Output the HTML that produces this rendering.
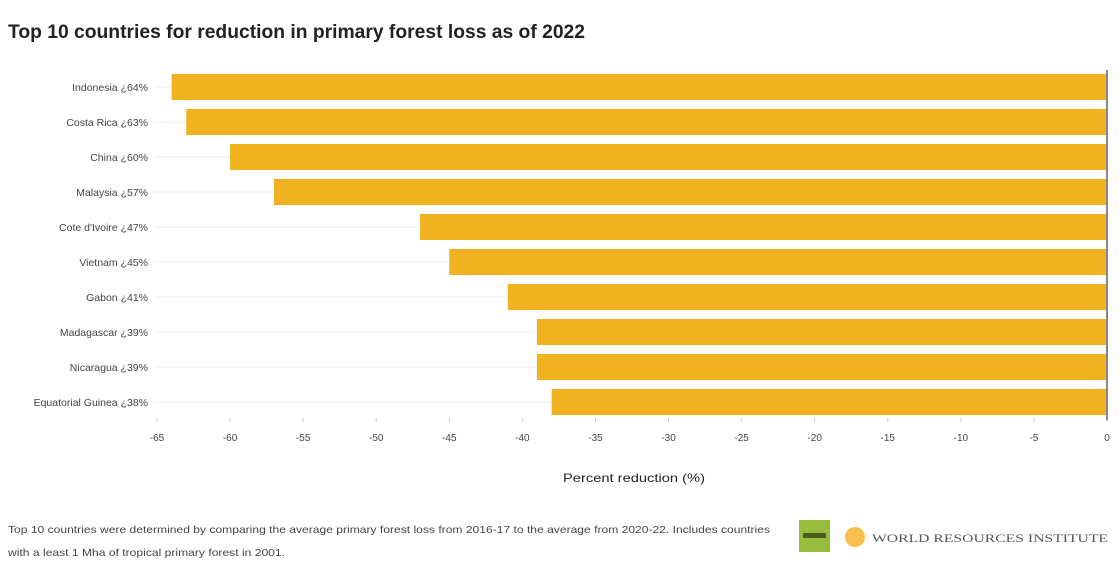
<!DOCTYPE html>
<html><head><meta charset="utf-8"><style>
body{margin:0;background:#fff;width:1120px;height:576px;overflow:hidden;font-family:"Liberation Sans",sans-serif}
</style></head><body>
<svg id="chart" width="1120" height="576" xmlns="http://www.w3.org/2000/svg" font-family="Liberation Sans, sans-serif">
<text x="8" y="38" font-size="19" font-weight="bold" fill="#222" textLength="577" lengthAdjust="spacingAndGlyphs">Top 10 countries for reduction in primary forest loss as of 2022</text>
<g id="grid"></g><g id="bars"></g><g id="ylabels"></g><g id="xticks"></g>
<line x1="1107" y1="70" x2="1107" y2="420" stroke="#888" stroke-width="2"/>
<text x="634" y="482" font-size="12" text-anchor="middle" fill="#222" textLength="142" lengthAdjust="spacingAndGlyphs">Percent reduction (%)</text>
<text font-size="10.5" fill="#444">
<tspan x="8" y="533" textLength="762" lengthAdjust="spacingAndGlyphs">Top 10 countries were determined by comparing the average primary forest loss from 2016-17 to the average from 2020-22. Includes countries</tspan>
<tspan x="8" y="556" textLength="277" lengthAdjust="spacingAndGlyphs">with a least 1 Mha of tropical primary forest in 2001.</tspan>
</text>
<g><rect x="799" y="520" width="31" height="32" fill="#97bd3d"/><rect x="803" y="533" width="23" height="5" fill="#4b5b22"/></g>
<circle cx="855" cy="537" r="10" fill="#f8c14e"/>
<text x="872" y="542" font-size="12" font-family="Liberation Serif, serif" fill="#555" textLength="236" lengthAdjust="spacingAndGlyphs">WORLD RESOURCES INSTITUTE</text>
</svg>
<script>
const countries=["Indonesia","Costa Rica","China","Malaysia","Cote d'Ivoire","Vietnam","Gabon","Madagascar","Nicaragua","Equatorial Guinea"];
const values=[-64,-63,-60,-57,-47,-45,-41,-39,-39,-38];
const ticks=[-65,-60,-55,-50,-45,-40,-35,-30,-25,-20,-15,-10,-5,0];
const NS="http://www.w3.org/2000/svg";
const x=v=>1107+(v/65)*950;
const y=i=>87+i*35;
function mk(tag,attrs,parent){const e=document.createElementNS(NS,tag);for(const k in attrs)e.setAttribute(k,attrs[k]);document.getElementById(parent).appendChild(e);return e;}
countries.forEach((c,i)=>{
  const g=mk('line',{x1:155,x2:1107,y1:y(i),y2:y(i),stroke:'#eee','stroke-width':1},'grid');
  
  
  const b=mk('rect',{x:x(values[i]),y:y(i)-13,width:x(0)-x(values[i]),height:26,fill:'#f0b21e'},'bars');
  
  
  const t=mk('text',{x:148,y:y(i)+4,'font-size':10.5,'text-anchor':'end',fill:'#444'},'ylabels');
  t.textContent=c+" ¿"+Math.abs(values[i])+"%";
  
  
});
ticks.forEach(v=>{
  const l=mk('line',{x1:x(v),x2:x(v),y1:418,y2:422,stroke:'#ccc'},'xticks');
  
  
  const t=mk('text',{x:x(v),y:441,'font-size':10,'text-anchor':'middle',fill:'#444'},'xticks');
  t.textContent=v;
  
  
});
</script>
</body></html>
